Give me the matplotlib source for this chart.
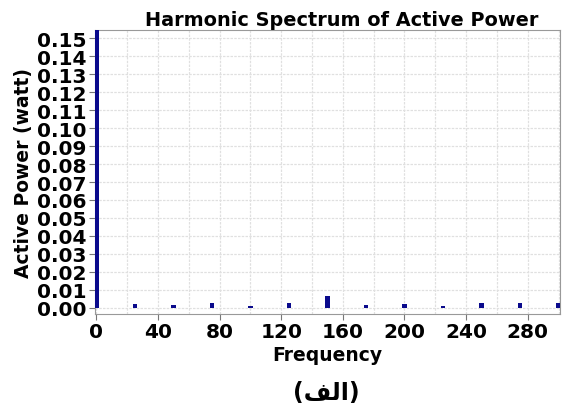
import numpy as np
import matplotlib.pyplot as plt
from matplotlib.ticker import MultipleLocator

# harmonic spectrum values
freq = [0, 25, 50, 75, 100, 125, 150, 175, 200, 225, 250, 275, 300]
power = [0.16, 0.0022, 0.0015, 0.0025, 0.001, 0.003, 0.0066, 0.0015, 0.002, 0.0011, 0.0025, 0.003, 0.003]

plt.rcParams['font.family'] = ['DejaVu Sans']
plt.rcParams['font.weight'] = 'bold'

fig = plt.figure(figsize=(5.68, 4.10), dpi=100)
ax = fig.add_axes([0.167, 0.232, 0.819, 0.692])

ax.bar(freq, power, width=3.0, color='#0a0a8c', zorder=3)

ax.set_xlim(-1, 301)
ax.set_ylim(-0.0033, 0.1544)

ax.xaxis.set_major_locator(MultipleLocator(40))
ax.xaxis.set_minor_locator(MultipleLocator(20))
ax.yaxis.set_major_locator(MultipleLocator(0.01))
ax.yaxis.set_major_formatter(plt.FormatStrFormatter('%.2f'))

ax.grid(True, which='both', color='#e0e0e0', linestyle=(0, (2, 1)), linewidth=0.9, zorder=0)
ax.tick_params(axis='both', which='major', labelsize=14.5, length=4, color='#777777', pad=2)
ax.tick_params(axis='x', which='minor', length=0)
for lbl in ax.get_xticklabels() + ax.get_yticklabels():
    lbl.set_fontweight('bold')
for s in ax.spines.values():
    s.set_color('#999999')

ax.set_title('Harmonic Spectrum of Active Power', fontsize=13.9, fontweight='bold', pad=4, x=0.53)
ax.set_xlabel('Frequency', fontsize=13.5, fontweight='bold', labelpad=3)
ax.set_ylabel('Active Power (watt)', fontsize=13.5, fontweight='bold', labelpad=3)

# "(الف)" written with shaped presentation forms in visual order
fig.text(0.575, 0.042, '(\ufed2\ufedf\ufe8d)', ha='center', va='center', fontsize=17, fontweight='bold')

fig.savefig('out.png', dpi=100)
